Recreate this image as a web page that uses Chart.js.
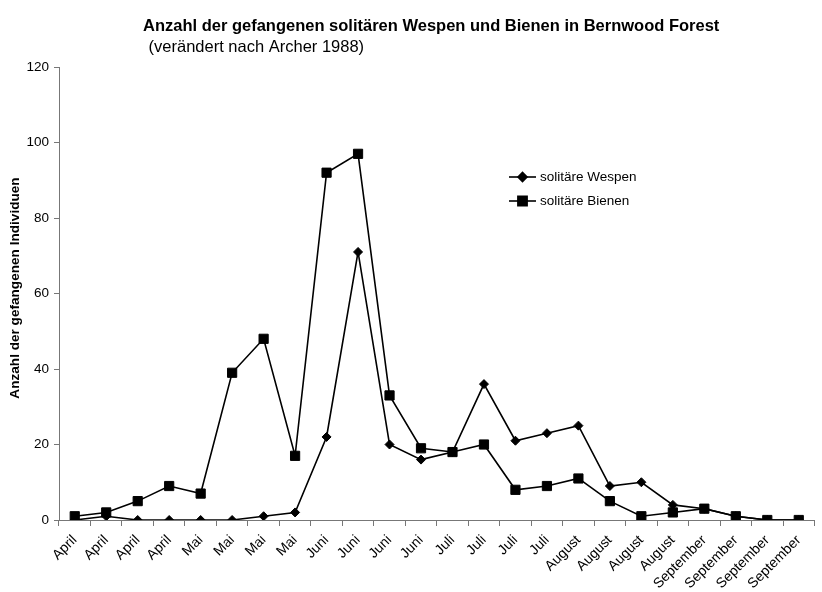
<!DOCTYPE html>
<html>
<head>
<meta charset="utf-8">
<script src="https://cdn.jsdelivr.net/npm/chart.js@4.4.0/dist/chart.umd.min.js"></script>
<style>
  html, body { margin: 0; padding: 0; background: #ffffff; }
  #wrap { width: 822px; height: 592px; }
</style>
</head>
<body>
<div id="wrap"><canvas id="c" width="822" height="592"></canvas></div>
<script>
const categories = [
  'April', 'April', 'April', 'April',
  'Mai', 'Mai', 'Mai', 'Mai',
  'Juni', 'Juni', 'Juni', 'Juni',
  'Juli', 'Juli', 'Juli', 'Juli',
  'August', 'August', 'August', 'August',
  'September', 'September', 'September', 'September'
];
const wespen = [0, 1, 0, 0, 0, 0, 1, 2, 22, 71, 20, 16, 18, 36, 21, 23, 25, 9, 10, 4, 3, 1, 0, 0];
const bienen = [1, 2, 5, 9, 7, 39, 48, 17, 92, 97, 33, 19, 18, 20, 8, 9, 11, 5, 1, 2, 3, 1, 0, 0];
const seriesNames = ['solitäre Wespen', 'solitäre Bienen'];
const titleText = 'Anzahl der gefangenen solitären Wespen und Bienen in Bernwood Forest';
const subtitleText = ' (verändert nach Archer 1988)';
const yAxisTitle = 'Anzahl der gefangenen Individuen';
const yMin = 0, yMax = 120, yStep = 20;

const FONT = "'Liberation Sans', Arial, sans-serif";

const decor = {
  id: 'decor',
  beforeDraw(chart) {
    const ctx = chart.ctx;
    ctx.save();
    ctx.fillStyle = '#ffffff';
    ctx.fillRect(0, 0, chart.width, chart.height);
    ctx.restore();
  },
  afterDraw(chart) {
    const ctx = chart.ctx;
    ctx.save();
    ctx.fillStyle = '#000';
    ctx.textBaseline = 'middle';
    ctx.textAlign = 'left';
    ctx.font = 'bold 16.5px ' + FONT;
    ctx.fillText(titleText, 143, 26);
    ctx.font = '16.5px ' + FONT;
    ctx.fillText(subtitleText, 144, 47);

    // y axis title
    ctx.save();
    ctx.translate(15, 288);
    ctx.rotate(-Math.PI / 2);
    ctx.textAlign = 'center';
    ctx.font = 'bold 13.6px ' + FONT;
    ctx.fillText(yAxisTitle, 0, 0);
    ctx.restore();

    // legend
    const items = [
      { name: seriesNames[0], style: 'rectRot', r: 4.5, y: 177 },
      { name: seriesNames[1], style: 'rect', r: 6.5, y: 201 }
    ];
    ctx.font = '13.5px ' + FONT;
    items.forEach(it => {
      ctx.strokeStyle = '#000';
      ctx.lineWidth = 1.6;
      ctx.beginPath();
      ctx.moveTo(509, it.y);
      ctx.lineTo(536, it.y);
      ctx.stroke();
      ctx.fillStyle = '#000';
      Chart.helpers.drawPoint(ctx, { pointStyle: it.style, radius: it.r, borderWidth: 1 }, 522.5, it.y);
      ctx.fillStyle = '#000';
      ctx.fillText(it.name, 540, it.y);
    });
    ctx.restore();
  }
};

new Chart(document.getElementById('c'), {
  type: 'line',
  data: {
    labels: categories,
    datasets: [
      {
        label: seriesNames[0], data: wespen,
        borderColor: '#000', backgroundColor: '#000', borderWidth: 1.6,
        pointStyle: 'rectRot', pointRadius: 4.5, pointBorderWidth: 1,
        pointBackgroundColor: '#000', pointBorderColor: '#000',
        tension: 0, order: 2
      },
      {
        label: seriesNames[1], data: bienen,
        borderColor: '#000', backgroundColor: '#000', borderWidth: 1.6,
        pointStyle: 'rect', pointRadius: 6.5, pointBorderWidth: 1,
        pointBackgroundColor: '#000', pointBorderColor: '#000',
        tension: 0, order: 1
      }
    ]
  },
  options: {
    responsive: false,
    animation: false,
    layout: { padding: { top: 67, right: 0, left: 0, bottom: 0 } },
    plugins: {
      legend: { display: false },
      title: { display: false },
      tooltip: { enabled: false }
    },
    scales: {
      x: {
        offset: true,
        grid: { offset: true, drawOnChartArea: false, tickLength: 6, color: '#777', lineWidth: 1 },
        border: { color: '#777', width: 1 },
        ticks: {
          autoSkip: false, maxRotation: 45, minRotation: 45, padding: 6,
          color: '#000', font: { family: FONT, size: 14 }
        },
        afterFit(s) { s.height = 72; }
      },
      y: {
        min: yMin, max: yMax,
        ticks: { stepSize: yStep, color: '#000', padding: 5, font: { family: FONT, size: 13.5 } },
        grid: { drawOnChartArea: false, tickLength: 5, color: '#777', lineWidth: 1 },
        border: { color: '#777', width: 1 },
        title: { display: false },
        afterFit(s) { s.width = 59; }
      }
    }
  },
  plugins: [decor]
});
</script>
</body>
</html>
